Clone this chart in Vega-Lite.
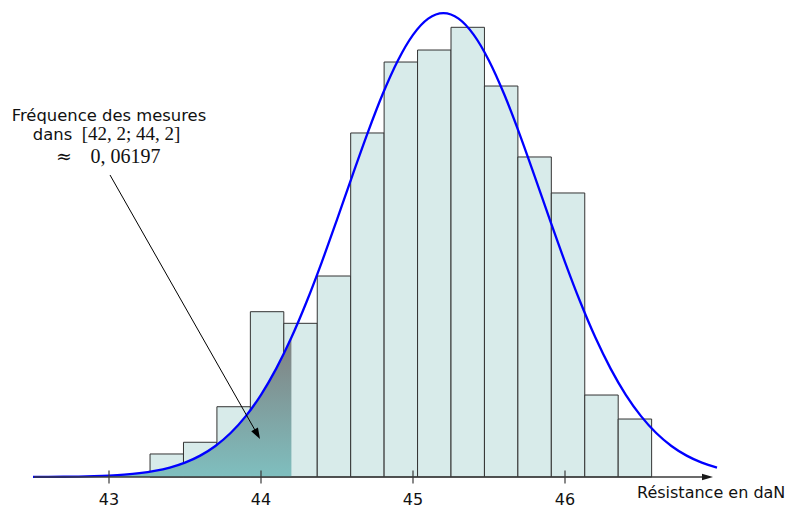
{
  "$schema": "https://vega.github.io/schema/vega-lite/v6.json",
  "width": 794,
  "height": 508,
  "padding": 0,
  "autosize": {"type": "none"},
  "background": "white",
  "config": {"view": {"stroke": null}},
  "datasets": {
    "hist": [
      {"start": 43.27, "end": 43.49, "density": 0.0307},
      {"start": 43.49, "end": 43.71, "density": 0.0463},
      {"start": 43.71, "end": 43.93, "density": 0.0937},
      {"start": 43.93, "end": 44.15, "density": 0.2204},
      {"start": 44.15, "end": 44.37, "density": 0.2049},
      {"start": 44.37, "end": 44.59, "density": 0.2680},
      {"start": 44.59, "end": 44.81, "density": 0.4587},
      {"start": 44.81, "end": 45.03, "density": 0.5533},
      {"start": 45.03, "end": 45.25, "density": 0.5693},
      {"start": 45.25, "end": 45.47, "density": 0.5996},
      {"start": 45.47, "end": 45.69, "density": 0.5213},
      {"start": 45.69, "end": 45.91, "density": 0.4267},
      {"start": 45.91, "end": 46.13, "density": 0.3787},
      {"start": 46.13, "end": 46.35, "density": 0.1093},
      {"start": 46.35, "end": 46.57, "density": 0.0773}
    ],
    "curve": [
      {"x": 42.5, "y": 0.00010}, {"x": 42.6, "y": 0.00018}, {"x": 42.7, "y": 0.00034},
      {"x": 42.8, "y": 0.00061}, {"x": 42.9, "y": 0.00107}, {"x": 43.0, "y": 0.00184},
      {"x": 43.1, "y": 0.00309}, {"x": 43.2, "y": 0.00505}, {"x": 43.3, "y": 0.00808},
      {"x": 43.4, "y": 0.01259}, {"x": 43.5, "y": 0.01919}, {"x": 43.6, "y": 0.02851},
      {"x": 43.7, "y": 0.04140}, {"x": 43.8, "y": 0.05863}, {"x": 43.9, "y": 0.08114},
      {"x": 44.0, "y": 0.10955}, {"x": 44.1, "y": 0.14450}, {"x": 44.2, "y": 0.18593},
      {"x": 44.3, "y": 0.23365}, {"x": 44.4, "y": 0.28660}, {"x": 44.5, "y": 0.34323},
      {"x": 44.6, "y": 0.40127}, {"x": 44.7, "y": 0.45796}, {"x": 44.8, "y": 0.51030},
      {"x": 44.9, "y": 0.55507}, {"x": 45.0, "y": 0.58947}, {"x": 45.1, "y": 0.61111},
      {"x": 45.2, "y": 0.61850}, {"x": 45.3, "y": 0.61111}, {"x": 45.4, "y": 0.58947},
      {"x": 45.5, "y": 0.55507}, {"x": 45.6, "y": 0.51030}, {"x": 45.7, "y": 0.45796},
      {"x": 45.8, "y": 0.40127}, {"x": 45.9, "y": 0.34323}, {"x": 46.0, "y": 0.28660},
      {"x": 46.1, "y": 0.23365}, {"x": 46.2, "y": 0.18593}, {"x": 46.3, "y": 0.14450},
      {"x": 46.4, "y": 0.10955}, {"x": 46.5, "y": 0.08114}, {"x": 46.6, "y": 0.05863},
      {"x": 46.7, "y": 0.04140}, {"x": 46.8, "y": 0.02851}, {"x": 46.9, "y": 0.01919},
      {"x": 47.0, "y": 0.01259}
    ],
    "ticks": [{"v": 43}, {"v": 44}, {"v": 45}, {"v": 46}],
    "annSans": [
      {"x": 43.0, "y": 0.4745, "t": "Fréquence des mesures"},
      {"x": 42.6283, "y": 0.4493, "t": "dans"}
    ],
    "annSerif2": [
      {"x": 43.14474, "y": 0.4493, "t": "[42, 2; 44, 2]"}
    ],
    "annSerif3": [
      {"x": 43.10855, "y": 0.4187, "t": "0, 06197"}
    ],
    "annApprox": [
      {"x": 42.70395, "y": 0.4187, "t": "≈"}
    ]
  },
  "layer": [
    {
      "data": {"name": "hist"},
      "mark": {"type": "rect", "fill": "#d8ebea", "stroke": "#333333", "strokeWidth": 1},
      "encoding": {
        "x": {"field": "start", "type": "quantitative", "scale": {"domain": [42.28289, 47.50658], "nice": false, "zero": false}, "axis": null},
        "x2": {"field": "end"},
        "y": {"field": "density", "type": "quantitative", "scale": {"domain": [-0.04133, 0.636], "nice": false, "zero": false}, "axis": null},
        "y2": {"datum": 0}
      }
    },
    {
      "data": {"name": "curve"},
      "transform": [{"filter": "datum.x <= 44.2"}],
      "mark": {
        "type": "area",
        "orient": "vertical",
        "interpolate": "monotone",
        "fill": {"gradient": "linear", "x1": 0, "y1": 0, "x2": 0, "y2": 1,
          "stops": [{"offset": 0, "color": "#808080"}, {"offset": 1, "color": "#7fbfbf"}]}
      },
      "encoding": {
        "x": {"field": "x", "type": "quantitative", "axis": null},
        "y": {"field": "y", "type": "quantitative", "axis": null},
        "y2": {"datum": 0}
      }
    },
    {
      "data": {"name": "curve"},
      "mark": {"type": "line", "color": "#0000ff", "strokeWidth": 2.3, "interpolate": "monotone"},
      "encoding": {
        "x": {"field": "x", "type": "quantitative", "axis": null},
        "y": {"field": "y", "type": "quantitative", "axis": null}
      }
    },
    {
      "data": {"values": [{}]},
      "mark": {"type": "rule", "color": "#3a3a3a", "strokeWidth": 1.5},
      "encoding": {
        "x": {"datum": 42.5066, "type": "quantitative", "axis": null},
        "x2": {"datum": 46.94},
        "y": {"datum": 0, "type": "quantitative", "axis": null}
      }
    },
    {
      "data": {"values": [{}]},
      "mark": {"type": "point", "shape": "M-1,-0.6L1,0L-1,0.6Z", "filled": true, "fill": "#1a1a1a", "opacity": 1, "size": 121, "strokeWidth": 0},
      "encoding": {
        "x": {"datum": 46.9375, "type": "quantitative", "axis": null},
        "y": {"datum": 0, "type": "quantitative", "axis": null}
      }
    },
    {
      "data": {"name": "ticks"},
      "mark": {"type": "rule", "color": "#3a3a3a", "strokeWidth": 1.2},
      "encoding": {
        "x": {"field": "v", "type": "quantitative", "axis": null},
        "y": {"datum": -0.0087, "type": "quantitative", "axis": null},
        "y2": {"datum": 0.0087}
      }
    },
    {
      "data": {"name": "ticks"},
      "mark": {"type": "text", "font": "DejaVu Sans", "fontSize": 16, "align": "center", "baseline": "alphabetic", "color": "#111111"},
      "encoding": {
        "x": {"field": "v", "type": "quantitative", "axis": null},
        "y": {"datum": -0.0372, "type": "quantitative", "axis": null},
        "text": {"field": "v", "type": "quantitative", "format": "d"}
      }
    },
    {
      "data": {"values": [{}]},
      "mark": {"type": "text", "text": "Résistance en daN", "font": "DejaVu Sans", "fontSize": 16, "align": "left", "baseline": "alphabetic", "color": "#111111"},
      "encoding": {
        "x": {"datum": 46.4737, "type": "quantitative", "axis": null},
        "y": {"datum": -0.0284, "type": "quantitative", "axis": null}
      }
    },
    {
      "data": {"values": [{}]},
      "mark": {"type": "rule", "color": "#000000", "strokeWidth": 1},
      "encoding": {
        "x": {"datum": 43.00658, "type": "quantitative", "axis": null},
        "y": {"datum": 0.40267, "type": "quantitative", "axis": null},
        "x2": {"datum": 43.9757},
        "y2": {"datum": 0.05707}
      }
    },
    {
      "data": {"values": [{}]},
      "mark": {"type": "point", "shape": "M-1,-0.7L1,0L-1,0.7Z", "filled": true, "fill": "#000000", "opacity": 1, "size": 121, "strokeWidth": 0, "angle": 60.4},
      "encoding": {
        "x": {"datum": 43.9757, "type": "quantitative", "axis": null},
        "y": {"datum": 0.05707, "type": "quantitative", "axis": null}
      }
    },
    {
      "data": {"name": "annSans"},
      "mark": {"type": "text", "font": "DejaVu Sans", "fontSize": 16.4, "align": "center", "baseline": "alphabetic", "color": "#111111"},
      "encoding": {
        "x": {"field": "x", "type": "quantitative", "axis": null},
        "y": {"field": "y", "type": "quantitative", "axis": null},
        "text": {"field": "t"}
      }
    },
    {
      "data": {"name": "annSerif2"},
      "mark": {"type": "text", "font": "Liberation Serif", "fontSize": 19, "align": "center", "baseline": "alphabetic", "color": "#111111"},
      "encoding": {
        "x": {"field": "x", "type": "quantitative", "axis": null},
        "y": {"field": "y", "type": "quantitative", "axis": null},
        "text": {"field": "t"}
      }
    },
    {
      "data": {"name": "annSerif3"},
      "mark": {"type": "text", "font": "Liberation Serif", "fontSize": 20, "align": "center", "baseline": "alphabetic", "color": "#111111"},
      "encoding": {
        "x": {"field": "x", "type": "quantitative", "axis": null},
        "y": {"field": "y", "type": "quantitative", "axis": null},
        "text": {"field": "t"}
      }
    },
    {
      "data": {"name": "annApprox"},
      "mark": {"type": "text", "font": "DejaVu Serif", "fontSize": 19, "align": "center", "baseline": "alphabetic", "color": "#111111"},
      "encoding": {
        "x": {"field": "x", "type": "quantitative", "axis": null},
        "y": {"field": "y", "type": "quantitative", "axis": null},
        "text": {"field": "t"}
      }
    }
  ]
}
